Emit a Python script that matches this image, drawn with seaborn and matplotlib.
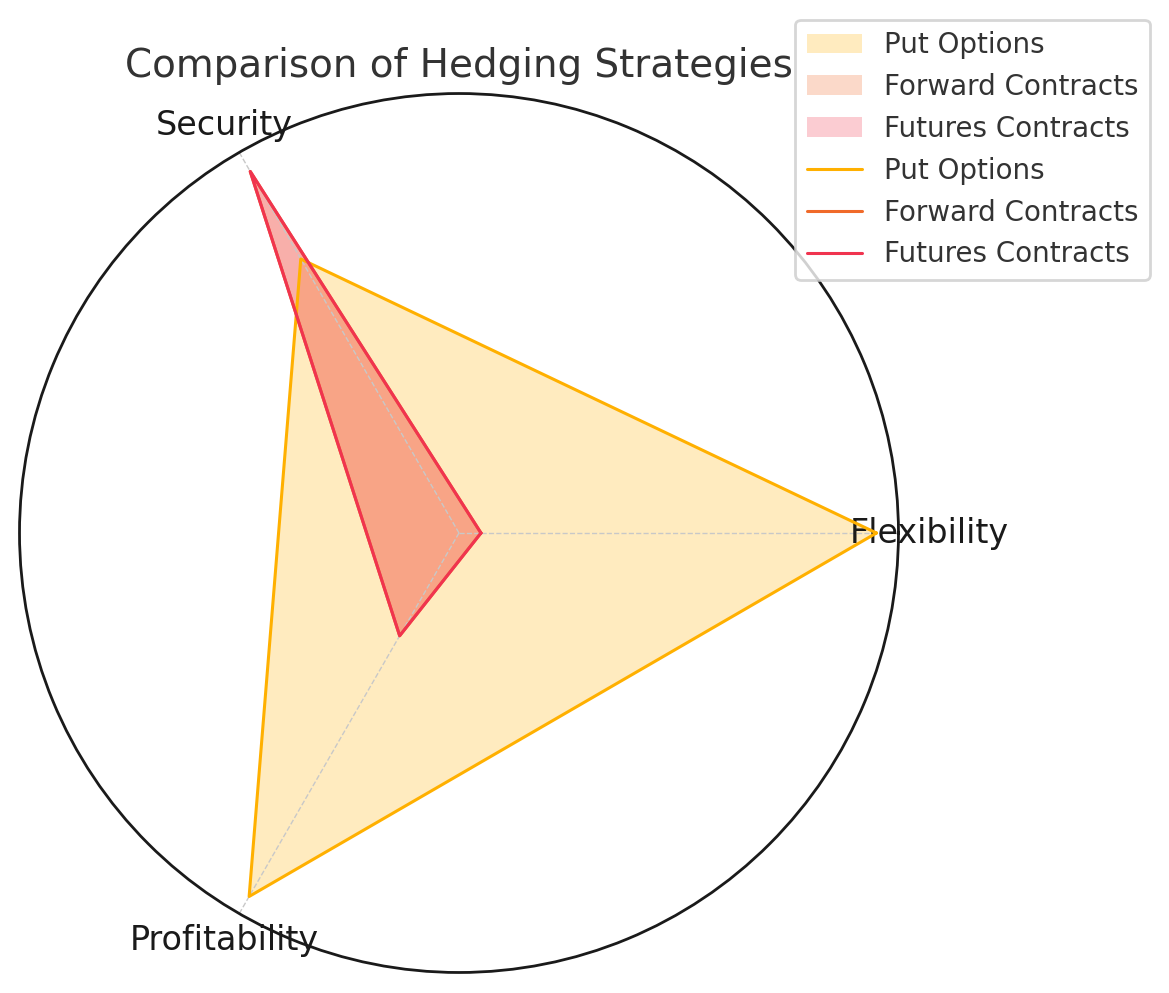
import numpy as np
import matplotlib
matplotlib.use("Agg")
import matplotlib.pyplot as plt
import seaborn as sns

categories = ["Flexibility", "Security", "Profitability"]
strategies = ["Put Options", "Forward Contracts", "Futures Contracts"]
put_options = [95, 72, 95.5]
forward_contracts = [5, 95, 27]
futures_contracts = [5, 95, 27]
colors = ["#FFB000", "#F06A2A", "#F0344F"]

sns.set_style("whitegrid")
plt.rcParams['font.family'] = ['DejaVu Sans']

fig = plt.figure(figsize=(5.845, 4.965), dpi=200)
ax = fig.add_axes([0.01668, 0.02064, 0.7519, 0.8852], projection='polar')

angles = np.linspace(0, 2 * np.pi, len(categories), endpoint=False)
closed = np.concatenate([angles, angles[:1]])
series = [put_options, forward_contracts, futures_contracts]

fill_handles = []
for name, vals, c in zip(strategies, series, colors):
    v = list(vals) + [vals[0]]
    f = ax.fill(closed, v, color=c, alpha=0.25, linewidth=0, label=name)
    fill_handles.append(f[0])
line_handles = []
for name, vals, c in zip(strategies, series, colors):
    v = list(vals) + [vals[0]]
    l, = ax.plot(closed, v, color=c, linewidth=1.1, label=name)
    line_handles.append(l)

ax.set_ylim(0, 100)
ax.set_yticks([])
ax.set_xticks(angles)
ax.set_xticklabels(categories, fontsize=12, color='#1a1a1a')
ax.tick_params(axis='x', pad=4, size=0)
ax.set_axisbelow('line')
ax.xaxis.grid(True, linestyle='--', color='#c8c8c8', linewidth=0.5)
ax.spines['polar'].set_color('#1a1a1a')
ax.spines['polar'].set_linewidth(1.0)
ax.set_facecolor('white')

ax.set_title("Comparison of Hedging Strategies", fontsize=14, color='#333333')

fig.legend(fill_handles + line_handles, strategies + strategies,
           loc='upper right', bbox_to_anchor=(0.9837, 0.9800),
           borderaxespad=0, fontsize=10, frameon=True,
           edgecolor='#cccccc', labelcolor='#333333')

fig.savefig("out.png", dpi=200)
